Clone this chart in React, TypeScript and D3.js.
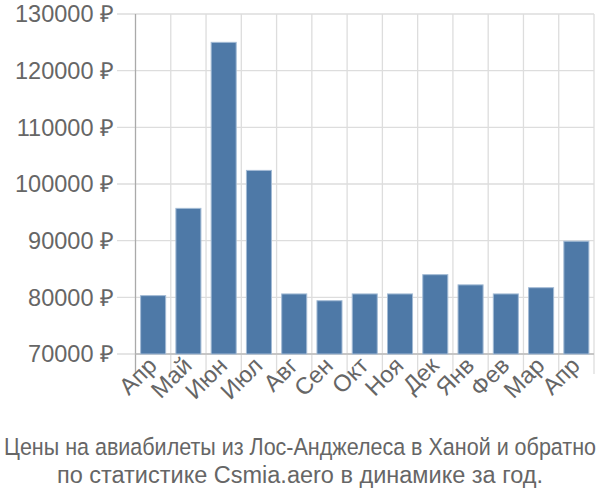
import React, { useLayoutEffect, useRef, useState } from "react";
import * as d3 from "d3";

const categories = ["Апр", "Май", "Июн", "Июл", "Авг", "Сен", "Окт", "Ноя", "Дек", "Янв", "Фев", "Мар", "Апр"];
const values = [80300, 95700, 125000, 102400, 80600, 79400, 80600, 80600, 84000, 82200, 80600, 81700, 89900];
const yTicks = [70000, 80000, 90000, 100000, 110000, 120000, 130000];
const titleLines = ["Цены на авиабилеты из Лос-Анджелеса в Ханой и обратно", "по статистике Csmia.aero в динамике за год."];

const W = 600, H = 500;
const left = 135.5, right = 594, top = 14, bottom = 354;
const font = "'Liberation Sans', Arial, sans-serif";

export default function App() {
  const idx = categories.map((_, i) => i);
  const x = d3.scaleBand<number>().domain(idx).range([left, right]).paddingInner(0.29).paddingOuter(0.145);
  const xb = d3.scaleBand<number>().domain(idx).range([left, right]);
  const y = d3.scaleLinear().domain([70000, 130000]).range([bottom, top]);
  const fmt = (v: number) => `${v} ₽`;
  const t1 = useRef<SVGTextElement>(null);
  const [k, setK] = useState(0.92);
  useLayoutEffect(() => {
    if (t1.current) {
      const w = t1.current.getComputedTextLength();
      if (w > 0) setK(Math.min(1, 592 / w));
    }
  }, []);
  return (
    <svg width={W} height={H} style={{ position: "absolute", left: 0, top: 0 }} fontFamily={font}>
      <rect width={W} height={H} fill="#fff" />
      {yTicks.map((t) => (
        <g key={t}>
          <line x1={117} x2={right} y1={y(t)} y2={y(t)} stroke="#ddd" strokeWidth={1.3} />
          <text x={114} y={y(t)} dy="0.35em" textAnchor="end" fontSize={23.5} fill="#666">{fmt(t)}</text>
        </g>
      ))}
      {idx.map((i) => (
        <line key={i} x1={xb(i)! + xb.bandwidth()} x2={xb(i)! + xb.bandwidth()} y1={top} y2={374} stroke="#ddd" strokeWidth={1.3} />
      ))}
      <line x1={left} x2={left} y1={top} y2={374} stroke="#aaa" strokeWidth={1.3} />
      <line x1={left} x2={right} y1={bottom} y2={bottom} stroke="#bbb" strokeWidth={1.3} />
      {values.map((v, i) => (
        <rect key={i} x={x(i)} y={y(v)} width={x.bandwidth()} height={bottom - y(v)} fill="#4e79a7" stroke="#a3bbd5" strokeWidth={1} />
      ))}
      {categories.map((c, i) => {
        const cx = xb(i)! + xb.bandwidth() / 2 + 5;
        return (
          <text key={i} transform={`translate(${cx},${367}) rotate(-45)`} textAnchor="end" fontSize={23.5} fill="#666">{c}</text>
        );
      })}
      <text ref={t1} transform={`translate(300,455) scale(${k},1)`} textAnchor="middle" fontSize={23.5} fill="#666">{titleLines[0]}</text>
      <text x={300} y={482.5} textAnchor="middle" fontSize={23.5} fill="#666">{titleLines[1]}</text>
    </svg>
  );
}
